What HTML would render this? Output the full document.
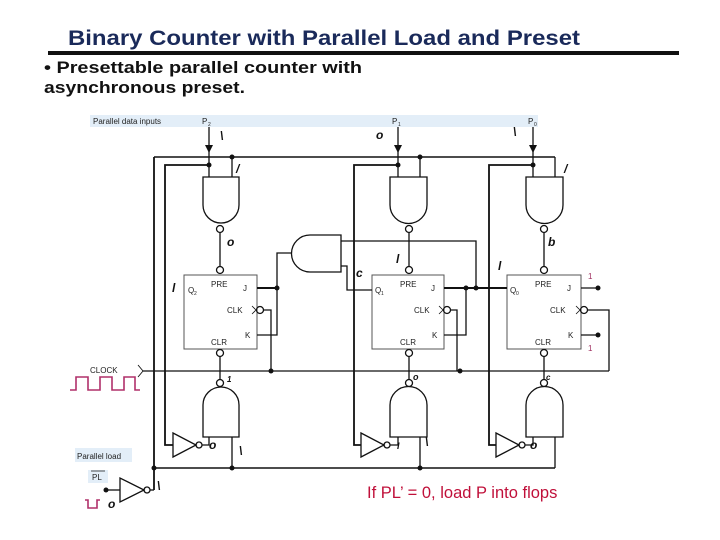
<!DOCTYPE html>
<html><head><meta charset="utf-8"><style>
html,body{margin:0;padding:0;background:#fff;}
body{width:720px;height:540px;position:relative;overflow:hidden;font-family:"Liberation Sans",sans-serif;}
</style></head><body>
<svg width="720" height="540" viewBox="0 0 720 540" xmlns="http://www.w3.org/2000/svg" style="position:absolute;left:0;top:0">
<text x="68" y="45" font-size="21" font-weight="bold" fill="#1a2a5a" font-family="Liberation Sans, sans-serif" textLength="512" lengthAdjust="spacingAndGlyphs">Binary Counter with Parallel Load and Preset</text>
<rect x="48" y="51" width="631" height="4" fill="#111"/>
<text x="44" y="73" font-size="17" font-weight="bold" fill="#111" font-family="Liberation Sans, sans-serif" textLength="318" lengthAdjust="spacingAndGlyphs">• Presettable parallel counter with</text>
<text x="44" y="93" font-size="17" font-weight="bold" fill="#111" font-family="Liberation Sans, sans-serif" textLength="201" lengthAdjust="spacingAndGlyphs">asynchronous preset.</text>

<rect x="90" y="115" width="448" height="12" fill="#e3eef8"/>
<rect x="75" y="448" width="57" height="14" fill="#e3eef8"/>
<rect x="88" y="470" width="20" height="13" fill="#e3eef8"/>
<g font-family="Liberation Sans, sans-serif" font-size="8" fill="#222">
<text x="93" y="124">Parallel data inputs</text>
<text x="202" y="124">P</text><text x="208" y="126" font-size="5">2</text>
<text x="392" y="124">P</text><text x="398" y="126" font-size="5">1</text>
<text x="528" y="124">P</text><text x="534" y="126" font-size="5">0</text>
<text x="90" y="373">CLOCK</text>
<text x="77" y="459">Parallel load</text>
<text x="92" y="480">PL</text>
</g>
<line x1="91" y1="471" x2="105" y2="471" stroke="#222" stroke-width="0.8"/>

<g stroke="#111" fill="none" stroke-width="1.3">
<line x1="209" y1="127" x2="209" y2="177"/><line x1="398" y1="127" x2="398" y2="177"/><line x1="533" y1="127" x2="533" y2="177"/>
<line x1="154" y1="157" x2="555" y2="157" stroke-width="1.6"/>
<line x1="154" y1="157" x2="154" y2="490" stroke-width="1.8"/>
<line x1="555" y1="157" x2="555" y2="177"/>
<line x1="154" y1="468" x2="555" y2="468" stroke-width="1.6"/>
<line x1="555" y1="468" x2="555" y2="437"/>
<line x1="232" y1="157" x2="232" y2="177"/><line x1="420" y1="157" x2="420" y2="177"/>
<line x1="232" y1="468" x2="232" y2="437"/><line x1="420" y1="468" x2="420" y2="437"/>
<polyline points="209,165 165,165 165,445 173,445" stroke-width="1.8"/>
<polyline points="398,165 354,165 354,445 361,445" stroke-width="1.8"/>
<polyline points="533,165 489,165 489,445 496,445" stroke-width="1.8"/>
<path d="M203,177 H239 V205 A18,18 0 0 1 203,205 Z"/>
<path d="M390,177 H427 V205 A18.5,18.5 0 0 1 390,205 Z"/>
<path d="M526,177 H563 V205 A18.5,18.5 0 0 1 526,205 Z"/>
<circle cx="220" cy="229" r="3.5"/><circle cx="409" cy="229" r="3.5"/><circle cx="544" cy="229" r="3.5"/>
<line x1="220" y1="233" x2="220" y2="266"/><line x1="409" y1="233" x2="409" y2="266"/><line x1="544" y1="233" x2="544" y2="266"/>
<circle cx="220" cy="270" r="3.5"/><circle cx="409" cy="270" r="3.5"/><circle cx="544" cy="270" r="3.5"/>
<rect x="184" y="275" width="73" height="74" stroke="#555" stroke-width="1"/>
<rect x="372" y="275" width="72" height="74" stroke="#555" stroke-width="1"/>
<rect x="507" y="275" width="74" height="74" stroke="#555" stroke-width="1"/>
<circle cx="220" cy="353" r="3.5"/><circle cx="409" cy="353" r="3.5"/><circle cx="544" cy="353" r="3.5"/>
<line x1="220" y1="357" x2="220" y2="379"/><line x1="409" y1="357" x2="409" y2="379"/><line x1="544" y1="357" x2="544" y2="379"/>
<circle cx="220" cy="383" r="3.5"/><circle cx="409" cy="383" r="3.5"/><circle cx="544" cy="383" r="3.5"/>
<path d="M203,437 H239 V405 A18,18 0 0 0 203,405 Z"/>
<path d="M390,437 H427 V405 A18.5,18.5 0 0 0 390,405 Z"/>
<path d="M526,437 H563 V405 A18.5,18.5 0 0 0 526,405 Z"/>
<path d="M173,433 L173,457 L196,445 Z"/><circle cx="199" cy="445" r="3"/><polyline points="202,445 209,445 209,437"/>
<path d="M361,433 L361,457 L384,445 Z"/><circle cx="387" cy="445" r="3"/><polyline points="390,445 398,445 398,437"/>
<path d="M496,433 L496,457 L519,445 Z"/><circle cx="522" cy="445" r="3"/><polyline points="525,445 533,445 533,437"/>
<path d="M341,235 H310 A18.5,18.5 0 0 0 310,272 H341 Z"/>
<polyline points="291,253 277,253 277,335 257,335"/>
<line x1="257" y1="288" x2="277" y2="288" stroke-width="2"/>
<polyline points="341,241 476,241 476,288"/>
<polyline points="341,266 347,266 347,290 372,290"/>
<line x1="444" y1="288" x2="507" y2="288" stroke-width="2"/>
<polyline points="466,288 466,335 444,335"/>
<circle cx="260" cy="310" r="3.5"/><polyline points="264,310 271,310 271,371"/>
<circle cx="447" cy="310" r="3.5"/><polyline points="451,310 457,310 457,371"/>
<circle cx="584" cy="310" r="3.5"/><polyline points="588,310 609,310 609,371"/>
<polyline points="252,306 256,310 252,314" stroke-width="0.8"/>
<polyline points="439,306 443,310 439,314" stroke-width="0.8"/>
<polyline points="576,306 580,310 576,314" stroke-width="0.8"/>
<line x1="581" y1="288" x2="598" y2="288"/><line x1="581" y1="335" x2="598" y2="335"/>
<line x1="143" y1="371" x2="609" y2="371"/>
<polyline points="138,365 143,371 138,377" stroke-width="0.9"/>
<line x1="106" y1="490" x2="120" y2="490"/>
<path d="M120,478 L120,502 L144,490 Z"/><circle cx="147" cy="490" r="3"/>
<polyline points="150,490 154,490"/>
</g>
<g fill="#111">
<polygon points="205,145 213,145 209,153"/><polygon points="394,145 402,145 398,153"/><polygon points="529,145 537,145 533,153"/>
<circle cx="232" cy="157" r="2.5"/><circle cx="420" cy="157" r="2.5"/>
<circle cx="209" cy="165" r="2.5"/><circle cx="398" cy="165" r="2.5"/><circle cx="533" cy="165" r="2.5"/>
<circle cx="277" cy="288" r="2.5"/><circle cx="466" cy="288" r="2.5"/><circle cx="476" cy="288" r="2.5"/>
<circle cx="598" cy="288" r="2.5"/><circle cx="598" cy="335" r="2.5"/>
<circle cx="271" cy="371" r="2.5"/><circle cx="460" cy="371" r="2.5"/>
<circle cx="154" cy="468" r="2.5"/><circle cx="232" cy="468" r="2.5"/><circle cx="420" cy="468" r="2.5"/>
<circle cx="106" cy="490" r="2.5"/>
</g>
<g font-family="Liberation Sans, sans-serif" font-size="8" fill="#222">
<text x="211" y="287">PRE</text><text x="400" y="287">PRE</text><text x="535" y="287">PRE</text>
<text x="243" y="291">J</text><text x="431" y="291">J</text><text x="567" y="291">J</text>
<text x="227" y="313">CLK</text><text x="414" y="313">CLK</text><text x="550" y="313">CLK</text>
<text x="245" y="338">K</text><text x="432" y="338">K</text><text x="568" y="338">K</text>
<text x="211" y="345">CLR</text><text x="400" y="345">CLR</text><text x="535" y="345">CLR</text>
<text x="188" y="293">Q</text><text x="194" y="295" font-size="5">2</text>
<text x="375" y="293">Q</text><text x="381" y="295" font-size="5">1</text>
<text x="510" y="293">Q</text><text x="516" y="295" font-size="5">0</text>
<text x="588" y="279" fill="#a03060">1</text><text x="588" y="351" fill="#a03060">1</text>
</g>
<g stroke="#b0306a" stroke-width="1.6" fill="none">
<polyline points="70,390 76,390 76,377 88,377 88,390 100,390 100,377 112,377 112,390 124,390 124,377 135,377 135,390 140,390"/>
<polyline points="85,500 88,500 88,508 97,508 97,500 100,500"/>
</g>
<g font-family="Liberation Sans, sans-serif" font-weight="bold" font-style="italic" font-size="12" fill="#111">
<text x="220" y="140">\</text><text x="236" y="173">/</text><text x="227" y="246">o</text><text x="172" y="292">l</text>
<text x="376" y="139">o</text><text x="396" y="263">l</text><text x="356" y="277">c</text><text x="498" y="270">l</text>
<text x="513" y="136">\</text><text x="564" y="173">/</text><text x="548" y="246">b</text>
<text x="227" y="382" font-size="8">1</text><text x="413" y="380" font-size="9">o</text><text x="546" y="380" font-size="8">c</text>
<text x="209" y="449">o</text><text x="239" y="455">\</text><text x="397" y="449" font-size="9">I</text><text x="425" y="446">\</text><text x="530" y="449">o</text>
<text x="157" y="490">\</text><text x="108" y="508">o</text>
</g>
<text x="367" y="498" font-family="Liberation Sans, sans-serif" font-size="16.5" fill="#c0103a">If PL’ = 0, load P into flops</text>
</svg>
</body></html>
